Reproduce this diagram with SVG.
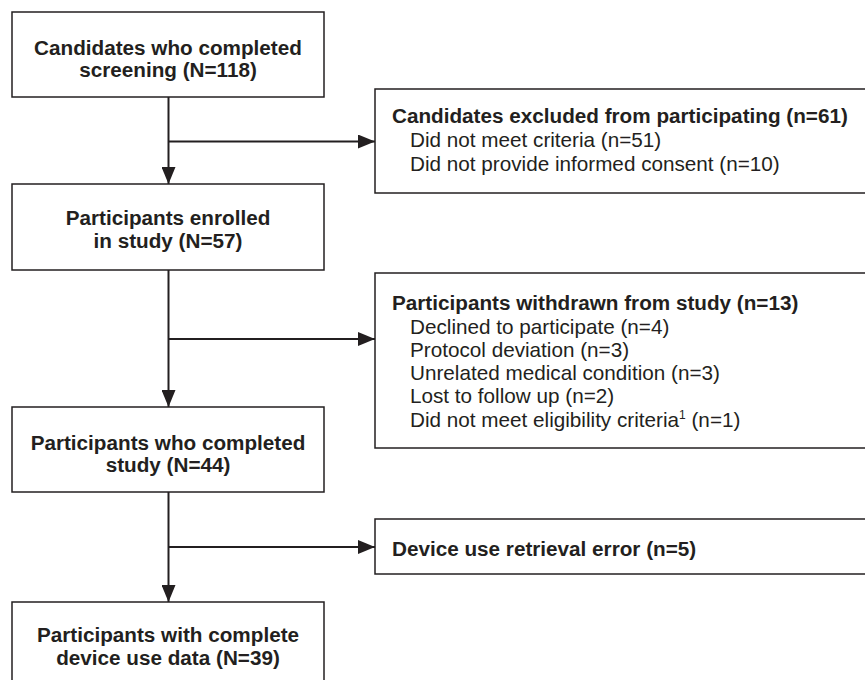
<svg xmlns="http://www.w3.org/2000/svg" width="865" height="680" viewBox="0 0 865 680">
<style>
.box{fill:#fff;stroke:#231f20;stroke-width:1.5}
.b{font-family:"Liberation Sans",Arial,sans-serif;font-weight:bold;font-size:20.7px;fill:#231f20}
.r{font-family:"Liberation Sans",Arial,sans-serif;font-size:20.7px;fill:#231f20}
.c{text-anchor:middle}
.ln{fill:none;stroke:#231f20;stroke-width:2}
</style>
<defs>
<marker id="ah" markerWidth="17" markerHeight="14" refX="17" refY="7" orient="auto" markerUnits="userSpaceOnUse">
<path d="M0,0 L17,7 L0,14 Z" fill="#231f20"/>
</marker>
</defs>
<rect width="865" height="680" fill="#fff"/>
<g id="connectors">
<line class="ln" x1="168.5" y1="97" x2="168.5" y2="184" marker-end="url(#ah)"/>
<line class="ln" x1="168.5" y1="141.5" x2="375" y2="141.5" marker-end="url(#ah)"/>
<line class="ln" x1="168.5" y1="270" x2="168.5" y2="407" marker-end="url(#ah)"/>
<line class="ln" x1="168.5" y1="339" x2="375" y2="339" marker-end="url(#ah)"/>
<line class="ln" x1="168.5" y1="492" x2="168.5" y2="602" marker-end="url(#ah)"/>
<line class="ln" x1="168.5" y1="547" x2="375" y2="547" marker-end="url(#ah)"/>
</g>
<g id="screening">
<rect class="box" x="12" y="12" width="312" height="85"/>
<text class="b c" x="168" y="55">Candidates who completed</text>
<text class="b c" x="168" y="77">screening (N=118)</text>
</g>
<g id="excluded">
<rect class="box" x="375" y="89" width="500" height="104"/>
<text class="b" x="392" y="123">Candidates excluded from participating (n=61)</text>
<text class="r" x="410" y="147">Did not meet criteria (n=51)</text>
<text class="r" x="410" y="171">Did not provide informed consent (n=10)</text>
</g>
<g id="enrolled">
<rect class="box" x="12" y="184" width="312" height="86"/>
<text class="b c" x="168" y="225">Participants enrolled</text>
<text class="b c" x="168" y="248">in study (N=57)</text>
</g>
<g id="withdrawn">
<rect class="box" x="375" y="273" width="500" height="175"/>
<text class="b" x="392" y="310">Participants withdrawn from study (n=13)</text>
<text class="r" x="410" y="334">Declined to participate (n=4)</text>
<text class="r" x="410" y="357">Protocol deviation (n=3)</text>
<text class="r" x="410" y="380">Unrelated medical condition (n=3)</text>
<text class="r" x="410" y="403">Lost to follow up (n=2)</text>
<text class="r" x="410" y="427">Did not meet eligibility criteria<tspan font-size="12" dy="-8">1</tspan><tspan dy="8"> (n=1)</tspan></text>
</g>
<g id="completed">
<rect class="box" x="12" y="407" width="312" height="85"/>
<text class="b c" x="168" y="450">Participants who completed</text>
<text class="b c" x="168" y="472">study (N=44)</text>
</g>
<g id="retrieval">
<rect class="box" x="375" y="519" width="500" height="55"/>
<text class="b" x="392" y="556">Device use retrieval error (n=5)</text>
</g>
<g id="complete-data">
<rect class="box" x="12" y="602" width="312" height="90"/>
<text class="b c" x="168" y="642">Participants with complete</text>
<text class="b c" x="168" y="665">device use data (N=39)</text>
</g>
</svg>
